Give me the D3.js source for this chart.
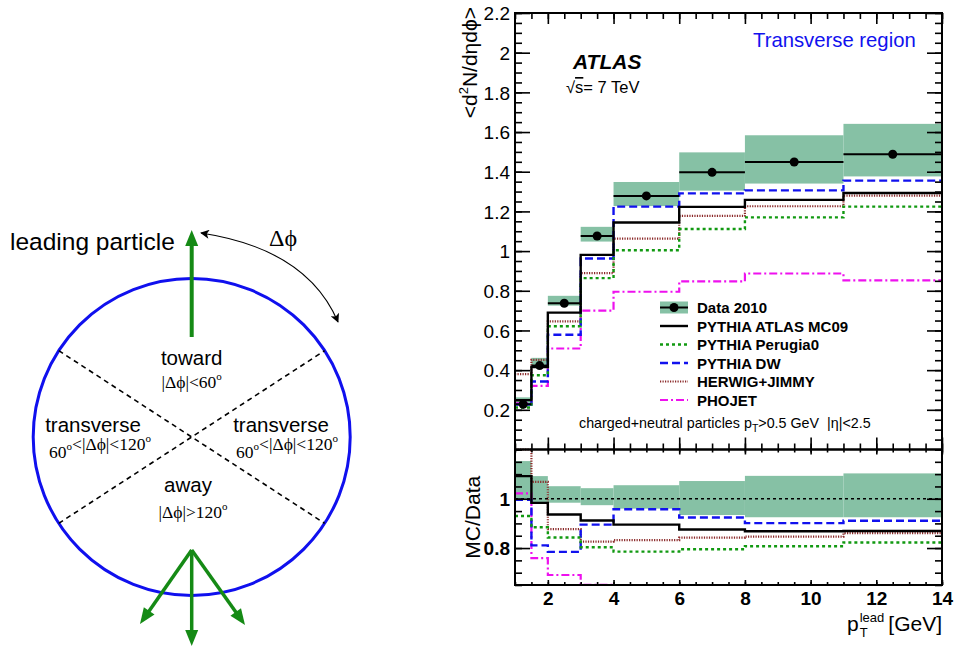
<!DOCTYPE html>
<html><head><meta charset="utf-8">
<script src="https://cdn.jsdelivr.net/npm/d3@7"></script>
<style>
body{margin:0;background:#fff}
svg{display:block}
text{font-family:"Liberation Sans",Arial,Helvetica,sans-serif;fill:#000}
.serif{font-family:"Liberation Serif","Times New Roman",serif}
</style></head><body><svg id="c" width="956" height="648"></svg>
<script>
// p_T^lead bin edges [GeV]
const binEdges = [1, 1.5, 2, 3, 4, 6, 8, 11, 14];
// measured <d2N/deta dphi>, transverse region
const data2010 = [0.228, 0.423, 0.737, 1.076, 1.278, 1.397, 1.449, 1.488];
// relative systematic band (up / down)
const sysUp   = [0.153, 0.092, 0.051, 0.043, 0.055, 0.072, 0.093, 0.103];
const sysDown = [0.005, 0.015, 0.016, 0.026, 0.040, 0.066, 0.075, 0.075];
// generator predictions
const pythiaMC09     = [0.249, 0.416, 0.690, 0.981, 1.144, 1.223, 1.258, 1.293];
const pythiaPerugia0 = [0.212, 0.374, 0.621, 0.864, 1.004, 1.111, 1.170, 1.224];
const pythiaDW       = [0.227, 0.343, 0.578, 0.963, 1.224, 1.291, 1.306, 1.355];
const herwigJimmy    = [0.380, 0.452, 0.646, 0.889, 1.063, 1.177, 1.226, 1.280];
const phojet         = [0.233, 0.321, 0.509, 0.700, 0.795, 0.847, 0.887, 0.852];
// axis ticks
const mainTicks = [0.2, 0.4, 0.6, 0.8, 1.0, 1.2, 1.4, 1.6, 1.8, 2.0, 2.2];
const mainTickLabels = ["0.2","0.4","0.6","0.8","1","1.2","1.4","1.6","1.8","2","2.2"];
const ratioTicks = [0.8, 1.0];
const ratioTickLabels = ["0.8","1"];
const xTicks = [2, 4, 6, 8, 10, 12, 14];
const xTickLabels = ["2","4","6","8","10","12","14"];
const legendLabels = ["Data 2010","PYTHIA ATLAS MC09","PYTHIA Perugia0","PYTHIA DW","HERWIG+JIMMY","PHOJET"];

// line styles for the generator curves
const mcSeries = [
  {values: pythiaMC09,     color: "#000000", width: 2.4, dash: null},
  {values: pythiaPerugia0, color: "#119911", width: 2.4, dash: "3,3"},
  {values: pythiaDW,       color: "#1111ee", width: 2.4, dash: "8,4"},
  {values: herwigJimmy,    color: "#8b2a2a", width: 2.2, dash: "1.2,1.3"},
  {values: phojet,         color: "#ee11ee", width: 2.2, dash: "8,3,2,3"}
];
const bandColor = "#86c1a5";

const svg = d3.select("#c");
const X0 = 515, X1 = 942, MT = 13, MB = 449.5, RB = 585;
const x  = d3.scaleLinear([1, 14], [X0, X1]);
const y  = d3.scaleLinear([0, 2.2], [MB, MT]);
const yr = d3.scaleLinear([0.65, 1.2], [RB, MB]).clamp(true);

const nb = data2010.length;
const bins = d3.range(nb).map(i => ({lo: binEdges[i], hi: binEdges[i+1], i}));

// ---------- main panel ----------
const main = svg.append("g");
// systematic band
main.selectAll("rect.band").data(bins).join("rect")
  .attr("x", d => x(d.lo)).attr("width", d => x(d.hi) - x(d.lo))
  .attr("y", d => y(data2010[d.i] * (1 + sysUp[d.i])))
  .attr("height", d => y(data2010[d.i] * (1 - sysDown[d.i])) - y(data2010[d.i] * (1 + sysUp[d.i])))
  .attr("fill", bandColor);

function stepPoints(vals) {
  const pts = vals.map((v, i) => [binEdges[i], v]);
  pts.push([binEdges[nb], vals[nb - 1]]);
  return pts;
}
const stepLine = d3.line().x(d => x(d[0])).y(d => y(d[1])).curve(d3.curveStepAfter);
const ratioLine = d3.line().x(d => x(d[0])).y(d => yr(d[1])).curve(d3.curveStepAfter);

[...mcSeries].reverse().forEach(s => {
  main.append("path").attr("d", stepLine(stepPoints(s.values)))
    .attr("fill", "none").attr("stroke", s.color).attr("stroke-width", s.width)
    .attr("stroke-dasharray", s.dash);
});

// data points with bin-width bars
main.selectAll("line.xerr").data(bins).join("line")
  .attr("x1", d => x(d.lo)).attr("x2", d => x(d.hi))
  .attr("y1", d => y(data2010[d.i])).attr("y2", d => y(data2010[d.i]))
  .attr("stroke", "#000").attr("stroke-width", 2);
main.selectAll("circle.pt").data(bins).join("circle")
  .attr("cx", d => x((d.lo + d.hi) / 2)).attr("cy", d => y(data2010[d.i]))
  .attr("r", 4.5).attr("fill", "#000");

// ---------- ratio panel ----------
const rat = svg.append("g");
rat.selectAll("rect.rband").data(bins).join("rect")
  .attr("x", d => x(d.lo)).attr("width", d => x(d.hi) - x(d.lo))
  .attr("y", d => yr(1 + sysUp[d.i]))
  .attr("height", d => yr(1 - sysDown[d.i]) - yr(1 + sysUp[d.i]))
  .attr("fill", bandColor);
rat.append("line").attr("x1", X0).attr("x2", X1).attr("y1", yr(1)).attr("y2", yr(1))
  .attr("stroke", "#000").attr("stroke-width", 1.3).attr("stroke-dasharray", "3,3");
[...mcSeries].reverse().forEach(s => {
  const r = s.values.map((v, i) => v / data2010[i]);
  rat.append("path").attr("d", ratioLine(stepPoints(r)))
    .attr("fill", "none").attr("stroke", s.color).attr("stroke-width", s.width)
    .attr("stroke-dasharray", s.dash);
});

// ---------- axes ----------
function clean(g) {
  g.select(".domain").remove();
  g.attr("font-family", null).attr("font-size", null);
  g.selectAll(".tick line").attr("stroke", "#000").attr("stroke-width", 1.6);
}
const yMinor = d3.range(0, 2.2001, 0.05);
const rMinor = d3.range(0.65, 1.2001, 0.05);
const xMinor = d3.range(1, 14.001, 0.5);

svg.append("g").attr("transform", `translate(${X0},0)`)
  .call(d3.axisLeft(y).tickValues(yMinor).tickSize(-7).tickFormat("")).call(clean);
svg.append("g").attr("transform", `translate(${X0},0)`)
  .call(d3.axisLeft(y).tickValues(mainTicks).tickSize(-15).tickPadding(5)
    .tickFormat((d, i) => mainTickLabels[i])).call(clean)
  .selectAll("text").attr("font-size", 19).attr("dy", "0.36em");
svg.append("g").attr("transform", `translate(${X1},0)`)
  .call(d3.axisRight(y).tickValues(yMinor).tickSize(-7).tickFormat("")).call(clean);
svg.append("g").attr("transform", `translate(${X1},0)`)
  .call(d3.axisRight(y).tickValues(mainTicks).tickSize(-15).tickFormat("")).call(clean);
svg.append("g").attr("transform", `translate(0,${MT})`)
  .call(d3.axisTop(x).tickValues(xMinor).tickSize(-6).tickFormat("")).call(clean);
svg.append("g").attr("transform", `translate(0,${MT})`)
  .call(d3.axisTop(x).tickValues(xTicks).tickSize(-11).tickFormat("")).call(clean);
svg.append("g").attr("transform", `translate(0,${MB})`)
  .call(d3.axisBottom(x).tickValues(xMinor).tickSize(-6).tickFormat("")).call(clean);
svg.append("g").attr("transform", `translate(0,${MB})`)
  .call(d3.axisBottom(x).tickValues(xTicks).tickSize(-12).tickFormat("")).call(clean);
// ratio panel ticks
svg.append("g").attr("transform", `translate(0,${MB})`)
  .call(d3.axisBottom(x).tickValues(xMinor).tickSize(3).tickFormat("")).call(clean);
svg.append("g").attr("transform", `translate(0,${MB})`)
  .call(d3.axisBottom(x).tickValues(xTicks).tickSize(5).tickFormat("")).call(clean);
svg.append("g").attr("transform", `translate(0,${RB})`)
  .call(d3.axisBottom(x).tickValues(xMinor).tickSize(-3).tickFormat("")).call(clean);
svg.append("g").attr("transform", `translate(0,${RB})`)
  .call(d3.axisBottom(x).tickValues(xTicks).tickSize(-5).tickPadding(7)
    .tickFormat((d, i) => xTickLabels[i])).call(clean)
  .selectAll("text").attr("font-size", 19).attr("font-weight", "bold");
svg.append("g").attr("transform", `translate(${X0},0)`)
  .call(d3.axisLeft(yr).tickValues(rMinor).tickSize(-7).tickFormat("")).call(clean);
svg.append("g").attr("transform", `translate(${X0},0)`)
  .call(d3.axisLeft(yr).tickValues(ratioTicks).tickSize(-15).tickPadding(5)
    .tickFormat((d, i) => ratioTickLabels[i])).call(clean)
  .selectAll("text").attr("font-size", 19).attr("font-weight", "bold").attr("dy", "0.36em");
svg.append("g").attr("transform", `translate(${X1},0)`)
  .call(d3.axisRight(yr).tickValues(rMinor).tickSize(-7).tickFormat("")).call(clean);
svg.append("g").attr("transform", `translate(${X1},0)`)
  .call(d3.axisRight(yr).tickValues(ratioTicks).tickSize(-15).tickFormat("")).call(clean);

// frames
svg.append("rect").attr("x", X0).attr("y", MT).attr("width", X1 - X0).attr("height", MB - MT)
  .attr("fill", "none").attr("stroke", "#000").attr("stroke-width", 2);
svg.append("rect").attr("x", X0).attr("y", MB).attr("width", X1 - X0).attr("height", RB - MB)
  .attr("fill", "none").attr("stroke", "#000").attr("stroke-width", 2);

// axis titles
const yt = svg.append("text").attr("transform", "translate(477,7) rotate(-90)")
  .attr("text-anchor", "end").attr("font-size", 21);
yt.append("tspan").text("<d");
yt.append("tspan").attr("font-size", 13).attr("dy", -9).text("2");
yt.append("tspan").attr("dy", 9).text("N/d\u03B7d\u03D5>");

svg.append("text").attr("transform", `translate(480,${(MB + RB) / 2}) rotate(-90)`)
  .attr("text-anchor", "middle").attr("font-size", 21).text("MC/Data");

const gev = svg.append("text").attr("x", X1).attr("y", 631).attr("text-anchor", "end")
  .attr("font-size", 21).text("[GeV]");
const gevLeft = X1 - gev.node().getComputedTextLength();
const lead = svg.append("text").attr("x", gevLeft - 4).attr("y", 622).attr("text-anchor", "end")
  .attr("font-size", 13).text("lead");
const leadLeft = gevLeft - 4 - lead.node().getComputedTextLength();
svg.append("text").attr("x", leadLeft).attr("y", 637).attr("font-size", 13).text("T");
svg.append("text").attr("x", leadLeft - 1).attr("y", 631).attr("text-anchor", "end")
  .attr("font-size", 21).text("p");

// labels in the plot
svg.append("text").attr("x", 573).attr("y", 69).attr("font-size", 21)
  .attr("font-weight", "bold").attr("font-style", "italic").text("ATLAS");
const rs = svg.append("text").attr("x", 566).attr("y", 93).attr("font-size", 16.5);
rs.append("tspan").text("\u221A");
rs.append("tspan").attr("text-decoration", "overline").text("s");
rs.append("tspan").text("= 7 TeV");
svg.append("text").attr("x", 753).attr("y", 47).attr("font-size", 20.3)
  .style("fill", "#1111ee").text("Transverse region");
const cut = svg.append("text").attr("x", 579).attr("y", 428).attr("font-size", 14.3);
cut.append("tspan").text("charged+neutral particles p");
cut.append("tspan").attr("font-size", 10.5).attr("dy", 4).text("T");
cut.append("tspan").attr("dy", -4).text(">0.5 GeV\u00A0\u00A0|\u03B7|<2.5");

// legend
const legY0 = 307.5, legDy = 18.5, legX0 = 660, legX1 = 688;
const leg = svg.append("g");
leg.append("rect").attr("x", legX0).attr("y", legY0 - 6).attr("width", legX1 - legX0).attr("height", 12)
  .attr("fill", bandColor);
leg.append("line").attr("x1", legX0).attr("x2", legX1).attr("y1", legY0).attr("y2", legY0)
  .attr("stroke", "#000").attr("stroke-width", 2);
leg.append("circle").attr("cx", (legX0 + legX1) / 2).attr("cy", legY0).attr("r", 4.5).attr("fill", "#000");
mcSeries.forEach((s, k) => {
  const yy = legY0 + (k + 1) * legDy;
  leg.append("line").attr("x1", legX0).attr("x2", legX1).attr("y1", yy).attr("y2", yy)
    .attr("stroke", s.color).attr("stroke-width", s.width).attr("stroke-dasharray", s.dash);
});
legendLabels.forEach((t, k) => {
  leg.append("text").attr("x", 697).attr("y", legY0 + k * legDy + 5.5)
    .attr("font-size", 15).attr("font-weight", "bold").text(t);
});

// ---------- azimuthal region sketch ----------
const sk = svg.append("g");
const cx = 191.7, cy = 437, R = 158.5;
const green = "#158a15";
sk.append("circle").attr("cx", cx).attr("cy", cy).attr("r", R)
  .attr("fill", "none").attr("stroke", "#1010ee").attr("stroke-width", 3);
const sectorTilt = 33 * Math.PI / 180;
[sectorTilt, -sectorTilt].forEach(a => {
  const dx = R * Math.cos(a), dy = R * Math.sin(a);
  sk.append("line").attr("x1", cx - dx).attr("y1", cy - dy).attr("x2", cx + dx).attr("y2", cy + dy)
    .attr("stroke", "#000").attr("stroke-width", 1.6).attr("stroke-dasharray", "5,4");
});
function arrow(x0, y0, x1, y1, w, hl, hw) {
  const L = Math.hypot(x1 - x0, y1 - y0), ux = (x1 - x0) / L, uy = (y1 - y0) / L;
  const bx = x1 - ux * hl, by = y1 - uy * hl;
  sk.append("line").attr("x1", x0).attr("y1", y0).attr("x2", bx + ux).attr("y2", by + uy)
    .attr("stroke", green).attr("stroke-width", w);
  sk.append("path").attr("d", `M${x1},${y1}L${bx - uy * hw},${by + ux * hw}L${bx + uy * hw},${by - ux * hw}Z`)
    .attr("fill", green);
}
arrow(cx, 337, cx, 230, 4, 16, 6.5);
arrow(cx, 550, 140, 624, 3.5, 16, 6.5);
arrow(cx, 550, cx, 646, 3.5, 16, 6.5);
arrow(cx, 550, 245, 625, 3.5, 16, 6.5);

// delta-phi arc with heads on both ends
const defs = svg.append("defs");
defs.append("marker").attr("id", "ah").attr("viewBox", "0 0 10 10").attr("refX", 9).attr("refY", 5)
  .attr("markerWidth", 11).attr("markerHeight", 9).attr("markerUnits", "userSpaceOnUse")
  .attr("orient", "auto-start-reverse")
  .append("path").attr("d", "M0,0L10,5L0,10L2.5,5Z").attr("fill", "#000");
sk.append("path").attr("d", "M201,233 Q307,249 338,322").attr("fill", "none")
  .attr("stroke", "#000").attr("stroke-width", 1.1)
  .attr("marker-start", "url(#ah)").attr("marker-end", "url(#ah)");
sk.append("text").attr("class", "serif").attr("x", 269).attr("y", 246).attr("font-size", 24).text("\u0394\u03D5");

sk.append("text").attr("x", 10).attr("y", 250).attr("font-size", 24.5).text("leading particle");

function deg(parts, xx, yy) {
  const el = sk.append("text").attr("class", "serif").attr("x", xx).attr("y", yy)
    .attr("font-size", 17.5).attr("text-anchor", "middle");
  parts.forEach(p => {
    if (p.sup) {
      el.append("tspan").attr("font-size", 11).attr("dy", -8).text(p.sup);
      el.append("tspan").attr("dy", 8).text("");
    } else el.append("tspan").text(p.t);
  });
  return el;
}
const sans = (t, xx, yy) => sk.append("text").attr("x", xx).attr("y", yy)
  .attr("text-anchor", "middle").attr("font-size", 20.5).text(t);
sans("toward", cx, 365);
deg([{t: "|\u0394\u03D5|<60"}, {sup: "o"}], cx, 388);
sans("transverse", 93, 432);
sans("transverse", 281, 432);
deg([{t: "60"}, {sup: "o"}, {t: "<|\u0394\u03D5|<120"}, {sup: "o"}], 100, 458);
deg([{t: "60"}, {sup: "o"}, {t: "<|\u0394\u03D5|<120"}, {sup: "o"}], 287, 458);
sans("away", 188, 492);
deg([{t: "|\u0394\u03D5|>120"}, {sup: "o"}], 193, 518);
</script></body></html>
